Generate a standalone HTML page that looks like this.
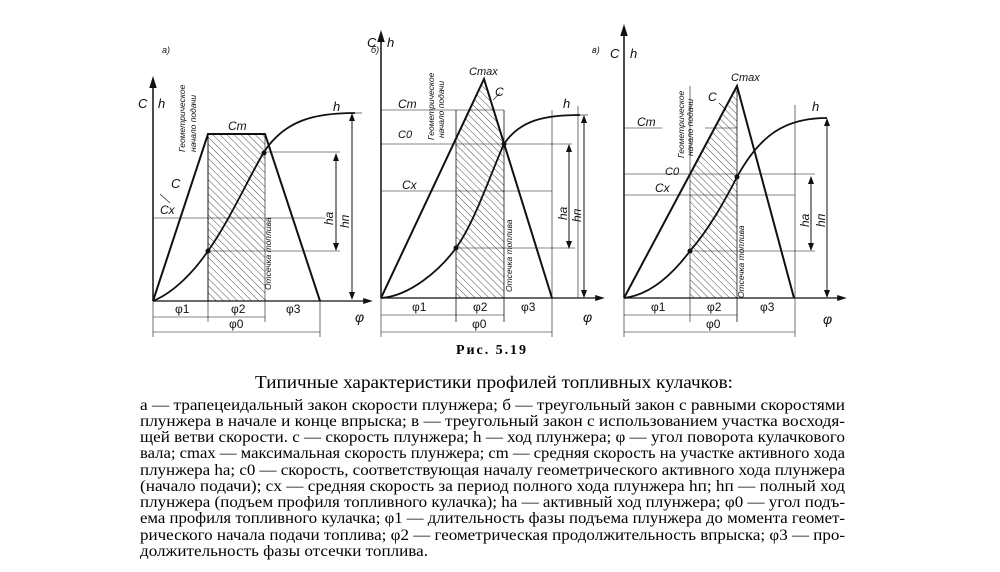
<!DOCTYPE html>
<html><head><meta charset="utf-8"><style>
html,body{margin:0;padding:0;background:#fff;}
svg{display:block}
.t{font-family:"Liberation Serif",serif;fill:#000}
.i{font-family:"Liberation Sans",sans-serif;font-style:italic;fill:#111}
</style></head><body>
<svg width="1000" height="572" viewBox="0 0 1000 572" xmlns="http://www.w3.org/2000/svg">
<defs>
<pattern id="h" width="5" height="5" patternUnits="userSpaceOnUse" patternTransform="rotate(-45)">
<line x1="0" y1="0" x2="0" y2="5" stroke="#222" stroke-width="0.8"/>
</pattern>
<marker id="a" markerWidth="8" markerHeight="8" refX="4" refY="4" orient="auto"><path d="M0,1.5 L8,4 L0,6.5z" fill="#111"/></marker>
</defs>
<g stroke="#111" fill="none">
<!-- Panel a -->
<rect x="208" y="134" width="57" height="167" fill="url(#h)" stroke="none"/>
<line x1="208" y1="134" x2="208" y2="301" stroke-width="1"/>
<line x1="153" y1="301" x2="153" y2="82" stroke-width="1.5" marker-end="url(#a)"/>
<line x1="153" y1="301" x2="368" y2="301" stroke-width="1.2" marker-end="url(#a)"/>
<polyline points="153,301 208,134 265,134 320,301" stroke-width="2"/>
<path d="M153,301 C175,292 195,270 208,251 C230,220 250,175 264,152 C285,120 315,113 355,113" stroke-width="1.8"/>
<g stroke-width="0.6">
<line x1="153" y1="218" x2="325" y2="218"/><line x1="264" y1="152" x2="340" y2="152"/><line x1="208" y1="251" x2="340" y2="251"/><line x1="355" y1="113" x2="362" y2="113"/>
<line x1="208" y1="301" x2="208" y2="322"/><line x1="265" y1="134" x2="265" y2="322"/><line x1="320" y1="301" x2="320" y2="337"/><line x1="153" y1="301" x2="153" y2="337"/>
<line x1="153" y1="317" x2="265" y2="317"/><line x1="153" y1="332" x2="320" y2="332"/>
<line x1="160" y1="194" x2="170" y2="203"/>
</g>
<line x1="336" y1="155" x2="336" y2="249" stroke-width="1"/><line x1="352" y1="116" x2="352" y2="297" stroke-width="1"/>
<path d="M333,161 L336,153 L339,161z M333,243 L336,251 L339,243z M349,121 L352,113 L355,121z M349,292 L352,300 L355,292z" fill="#111" stroke="none"/>
<circle cx="208" cy="251" r="2" fill="#111"/><circle cx="264" cy="153" r="2" fill="#111"/>
<!-- Panel b -->
<polygon points="456,139 484,79 504,143 504,298 456,298" fill="url(#h)" stroke="none"/>
<line x1="456" y1="110" x2="456" y2="322" stroke-width="0.8"/><line x1="504" y1="110" x2="504" y2="322" stroke-width="0.8"/>
<line x1="381" y1="298" x2="381" y2="36" stroke-width="1.5" marker-end="url(#a)"/>
<line x1="381" y1="298" x2="600" y2="298" stroke-width="1.2" marker-end="url(#a)"/>
<polyline points="381,298 484,79 552,298" stroke-width="2"/>
<path d="M381,298 C410,296 440,270 456,248 C475,222 492,170 504,144 C520,120 545,115 580,115" stroke-width="1.8"/>
<g stroke-width="0.6">
<line x1="381" y1="110" x2="504" y2="110"/><line x1="381" y1="144" x2="572" y2="144"/><line x1="381" y1="191" x2="552" y2="191"/><line x1="456" y1="248" x2="575" y2="248"/><line x1="580" y1="115" x2="588" y2="115"/>
<line x1="552" y1="298" x2="552" y2="337"/><line x1="552" y1="110" x2="552" y2="298"/><line x1="578" y1="106" x2="578" y2="298"/>
<line x1="381" y1="298" x2="381" y2="337"/>
<line x1="381" y1="315" x2="504" y2="315"/><line x1="381" y1="332" x2="552" y2="332"/>
<line x1="493" y1="100" x2="500" y2="93"/>
</g>
<line x1="569" y1="147" x2="569" y2="246" stroke-width="1"/><line x1="584" y1="118" x2="584" y2="295" stroke-width="1"/>
<path d="M566,152 L569,144 L572,152z M566,241 L569,249 L572,241z M581,123 L584,115 L587,123z M581,290 L584,298 L587,290z" fill="#111" stroke="none"/>
<circle cx="456" cy="248" r="2" fill="#111"/><circle cx="504" cy="144" r="2" fill="#111"/>
<!-- Panel c -->
<polygon points="690,174 737,86 737,298 690,298" fill="url(#h)" stroke="none"/>
<line x1="690" y1="86" x2="690" y2="322" stroke-width="0.6"/><line x1="737" y1="86" x2="737" y2="322" stroke-width="0.8"/>
<line x1="624" y1="298" x2="624" y2="30" stroke-width="1.5" marker-end="url(#a)"/>
<line x1="624" y1="298" x2="842" y2="298" stroke-width="1.2" marker-end="url(#a)"/>
<polyline points="624,298 737,86 794,298" stroke-width="2"/>
<path d="M624,298 C650,295 672,275 690,251 C710,228 725,200 737,177 C760,135 785,118 827,118" stroke-width="1.8"/>
<g stroke-width="0.6">
<line x1="624" y1="128" x2="662" y2="128"/><line x1="705" y1="128" x2="737" y2="128"/><line x1="624" y1="174" x2="815" y2="174"/><line x1="624" y1="195" x2="795" y2="195"/><line x1="690" y1="251" x2="815" y2="251"/>
<line x1="795" y1="105" x2="795" y2="337"/><line x1="624" y1="298" x2="624" y2="337"/>
<line x1="624" y1="315" x2="737" y2="315"/><line x1="624" y1="332" x2="795" y2="332"/>
<line x1="719" y1="103" x2="726" y2="110"/>
</g>
<line x1="811" y1="179" x2="811" y2="248" stroke-width="1"/><line x1="827" y1="121" x2="827" y2="295" stroke-width="1"/>
<path d="M808,184 L811,176 L814,184z M808,243 L811,251 L814,243z M824,126 L827,118 L830,126z M824,290 L827,298 L830,290z" fill="#111" stroke="none"/>
<circle cx="690" cy="251" r="2" fill="#111"/><circle cx="737" cy="177" r="2" fill="#111"/>
</g>
<!-- Labels -->
<g class="i" font-size="13">
<text x="162" y="53" font-size="9">а)</text><text x="371" y="53" font-size="9">б)</text><text x="592" y="53" font-size="9">в)</text>
<text x="138" y="108">C</text><text x="158" y="108">h</text>
<text x="228" y="130" font-size="12">Cm</text><text x="171" y="188">C</text><text x="160" y="214" font-size="12">Cx</text>
<text x="333" y="111">h</text>
<text x="367" y="47">C</text><text x="387" y="47">h</text>
<text x="469" y="75" font-size="11">Cmax</text><text x="495" y="96" font-size="12">C</text>
<text x="398" y="108" font-size="12">Cm</text><text x="398" y="138" font-size="11">C0</text><text x="402" y="189" font-size="12">Cx</text>
<text x="563" y="108">h</text>
<text x="610" y="58">C</text><text x="630" y="58">h</text>
<text x="731" y="81" font-size="11">Cmax</text><text x="708" y="101" font-size="12">C</text>
<text x="637" y="126" font-size="12">Cm</text><text x="665" y="175" font-size="11">C0</text><text x="655" y="192" font-size="12">Cx</text>
<text x="812" y="111">h</text>
<text x="355" y="322" font-size="14">φ</text><text x="583" y="322" font-size="14">φ</text><text x="823" y="324" font-size="14">φ</text>
<text transform="translate(333,225) rotate(-90)" font-size="12">hа</text><text transform="translate(349,228) rotate(-90)" font-size="12">hп</text>
<text transform="translate(567,220) rotate(-90)" font-size="12">hа</text><text transform="translate(581,222) rotate(-90)" font-size="12">hп</text>
<text transform="translate(809,227) rotate(-90)" font-size="12">hа</text><text transform="translate(825,227) rotate(-90)" font-size="12">hп</text>
</g>
<g class="i" font-size="8.5">
<text transform="translate(185,152) rotate(-90)">Геометрическое</text><text transform="translate(196,152) rotate(-90)">начало подачи</text>
<text transform="translate(271,290) rotate(-90)">Отсечка топлива</text>
<text transform="translate(434,140) rotate(-90)">Геометрическое</text><text transform="translate(444,138) rotate(-90)">начало подачи</text>
<text transform="translate(512,292) rotate(-90)">Отсечка топлива</text>
<text transform="translate(684,158) rotate(-90)">Геометрическое</text><text transform="translate(693,156) rotate(-90)">начало подачи</text>
<text transform="translate(744,298) rotate(-90)">Отсечка топлива</text>
</g>
<g font-family="Liberation Sans,sans-serif" font-size="12" fill="#111">
<text x="175" y="313">φ1</text><text x="231" y="313">φ2</text><text x="286" y="313">φ3</text><text x="229" y="328">φ0</text>
<text x="412" y="311">φ1</text><text x="473" y="311">φ2</text><text x="521" y="311">φ3</text><text x="472" y="328">φ0</text>
<text x="651" y="311">φ1</text><text x="707" y="311">φ2</text><text x="760" y="311">φ3</text><text x="706" y="328">φ0</text>
</g>
<!-- Caption -->
<text class="t" x="456" y="354" style="font-weight:bold;font-size:14px" textLength="70">Рис. 5.19</text>
<text class="t" x="255" y="388" style="font-size:18px" textLength="478" lengthAdjust="spacingAndGlyphs">Типичные характеристики профилей топливных кулачков:</text>
<g class="t" style="font-size:15.5px">
<text x="140" y="410" textLength="705" lengthAdjust="spacingAndGlyphs">а — трапецеидальный закон скорости плунжера; б — треугольный закон с равными скоростями</text>
<text x="140" y="426" textLength="705" lengthAdjust="spacingAndGlyphs">плунжера в начале и конце впрыска; в — треугольный закон с использованием участка восходя-</text>
<text x="140" y="442" textLength="705" lengthAdjust="spacingAndGlyphs">щей ветви скорости. c — скорость плунжера; h — ход плунжера; φ — угол поворота кулачкового</text>
<text x="140" y="458" textLength="705" lengthAdjust="spacingAndGlyphs">вала; cmax — максимальная скорость плунжера; cm — средняя скорость на участке активного хода</text>
<text x="140" y="475" textLength="705" lengthAdjust="spacingAndGlyphs">плунжера hа; c0 — скорость, соответствующая началу геометрического активного хода плунжера</text>
<text x="140" y="491" textLength="705" lengthAdjust="spacingAndGlyphs">(начало подачи); cx — средняя скорость за период полного хода плунжера hп; hп — полный ход</text>
<text x="140" y="507" textLength="705" lengthAdjust="spacingAndGlyphs">плунжера (подъем профиля топливного кулачка); hа — активный ход плунжера; φ0 — угол подъ-</text>
<text x="140" y="523" textLength="705" lengthAdjust="spacingAndGlyphs">ема профиля топливного кулачка; φ1 — длительность фазы подъема плунжера до момента геомет-</text>
<text x="140" y="540" textLength="705" lengthAdjust="spacingAndGlyphs">рического начала подачи топлива; φ2 — геометрическая продолжительность впрыска; φ3 — про-</text>
<text x="140" y="556" textLength="288" lengthAdjust="spacingAndGlyphs">должительность фазы отсечки топлива.</text>
</g>
</svg>
</body></html>
